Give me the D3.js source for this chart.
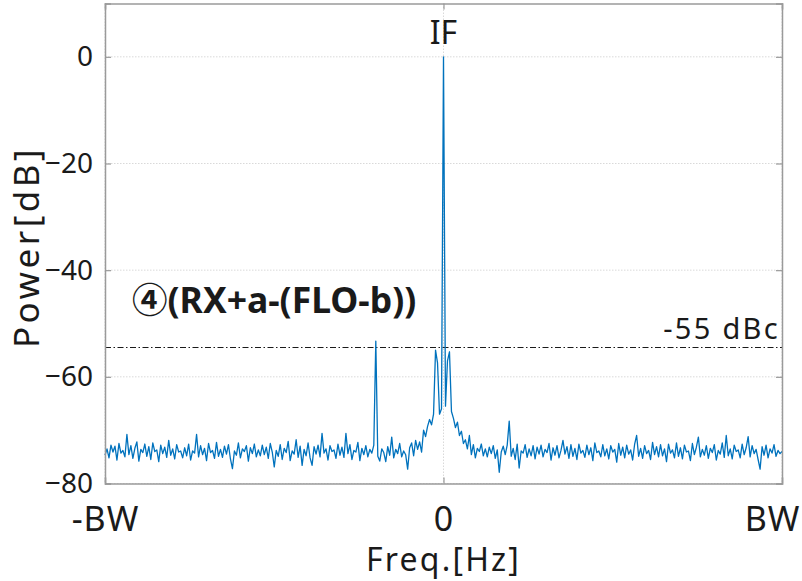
<!DOCTYPE html>
<html><head><meta charset="utf-8">
<script src="https://cdn.jsdelivr.net/npm/d3@7"></script>
<style>body{margin:0;background:#fff}svg text{font-family:"Noto Sans","Noto Sans CJK KR",sans-serif;fill:#1a1a1a}</style>
</head><body><div id="chart"></div>
<script>
// ---- data ----
const xTickValues = [-1, 0, 1];
const xTickLabels = ["-BW", "0", "BW"];
const yTickValues = [-80, -60, -40, -20, 0];
const refLevel = -54.5;          // dash-dot reference line
const refLabel = "-55 dBc";
const peakLabel = "IF";
const spurLabel = "④(RX+a-(FLO-b))";
const power = [
-74.7,-73.5,-75.2,-72.8,-74.1,-73.0,-75.6,-72.5,-74.3,-73.8,-75.0,-70.8,-74.6,-72.9,-75.3,-73.4,-72.2,-75.8,-73.6,-74.2,
-72.6,-74.9,-73.1,-75.5,-72.4,-74.0,-73.7,-75.9,-72.8,-74.4,-73.2,-75.1,-71.9,-74.7,-73.5,-75.4,-72.7,-74.1,-73.9,-75.2,
-73.3,-74.8,-72.6,-75.6,-73.9,-74.3,-70.8,-75.0,-72.9,-74.6,-73.4,-75.7,-72.5,-74.2,-73.8,-75.3,-72.3,-74.9,-73.6,-75.1,
-73.0,-74.5,-72.7,-75.4,-77.2,-73.9,-74.7,-72.4,-75.2,-73.5,-74.0,-72.9,-75.8,-73.3,-74.4,-72.6,-75.0,-73.7,-74.8,-72.8,
-74.6,-73.2,-75.3,-72.5,-74.1,-76.9,-73.8,-74.9,-72.7,-75.5,-73.4,-74.2,-72.1,-75.7,-73.9,-74.5,-71.8,-75.1,-73.0,-76.6,
-73.6,-74.8,-72.4,-75.2,-76.6,-73.1,-74.5,-72.8,-75.0,-70.6,-74.3,-73.5,-75.6,-72.9,-74.0,-73.7,-75.3,-72.6,-74.7,-73.2,
-75.1,-70.6,-74.4,-72.7,-75.5,-73.8,-74.1,-72.3,-75.7,-73.4,-74.6,-72.9,-75.0,-73.6,-74.3,-72.8,-53.3,-74.9,-75.8,-73.5,
-74.2,-75.9,-73.1,-74.7,-71.3,-75.2,-73.6,-74.4,-72.5,-75.0,-73.9,-74.6,-77.3,-73.3,-72.4,-74.8,-71.9,-73.6,-72.2,-74.1,
-70.0,-71.2,-69.3,-68.0,-69.0,-67.0,-55.0,-57.4,-67.0,-66.0,0.0,-65.5,-57.0,-55.3,-66.5,-67.8,-69.5,-68.5,-71.0,-70.2,
-72.5,-71.8,-73.5,-71.0,-74.6,-72.7,-75.2,-73.4,-74.0,-72.6,-74.8,-73.5,-75.0,-73.2,-74.4,-72.9,-75.3,-73.7,-77.9,-74.1,
-73.0,-74.6,-72.8,-68.3,-74.9,-73.4,-75.5,-72.6,-77.1,-73.9,-74.3,-72.7,-75.1,-73.5,-74.8,-72.9,-75.4,-73.2,-74.5,-72.8,
-75.0,-73.6,-74.2,-72.5,-75.6,-73.3,-74.7,-72.9,-75.2,-73.8,-71.9,-74.5,-73.1,-75.3,-72.7,-74.9,-73.4,-75.5,-72.6,-74.3,
-73.8,-75.1,-72.8,-74.6,-73.3,-75.7,-72.4,-74.2,-73.9,-75.0,-72.7,-74.8,-73.5,-75.4,-72.9,-74.1,-73.6,-76.0,-72.5,-74.7,
-73.2,-75.2,-72.8,-74.5,-73.7,-75.6,-72.6,-71.0,-74.9,-73.4,-75.3,-72.9,-74.4,-73.8,-75.5,-72.3,-74.6,-73.1,-75.0,-72.7,
-74.8,-73.5,-75.9,-72.6,-74.3,-73.7,-75.2,-72.4,-74.9,-73.3,-75.4,-72.8,-74.1,-73.9,-75.7,-72.5,-74.6,-73.2,-71.3,-75.0,
-73.6,-74.7,-72.9,-75.3,-73.4,-74.2,-72.7,-75.6,-73.8,-74.5,-72.4,-75.1,-71.0,-74.8,-73.5,-75.4,-72.8,-74.0,-73.7,-75.2,
-72.6,-74.6,-73.3,-71.2,-75.0,-72.9,-74.4,-73.6,-75.5,-77.3,-73.1,-74.7,-72.8,-75.2,-73.5,-74.3,-72.7,-74.9,-73.8,-74.4,-74.0
];
// uniform frequency grid spanning -BW .. BW
const freq = power.map((_, i) => -1 + 2 * i / (power.length - 1));

// ---- layout ----
const W = 802, H = 581;
const m = {left: 105, right: 20, top: 3.5, bottom: 97.5};
const iw = W - m.left - m.right, ih = H - m.top - m.bottom;

const svg = d3.select("#chart").append("svg").attr("width", W).attr("height", H);
svg.append("rect").attr("width", W).attr("height", H).attr("fill", "#fff");
const g = svg.append("g").attr("transform", `translate(${m.left},${m.top})`);

const x = d3.scaleLinear().domain([-1, 1]).range([0, iw]);
const y = d3.scaleLinear().domain([-80, 10]).range([ih, 0]);

// grid
g.append("g").selectAll("line").data(yTickValues).join("line")
  .attr("x1", 0).attr("x2", iw).attr("y1", d => y(d)).attr("y2", d => y(d))
  .attr("stroke", "#d9d9d9").attr("stroke-width", 1).attr("stroke-dasharray", "1.5,1.5");
g.append("g").selectAll("line").data(xTickValues).join("line")
  .attr("x1", d => x(d)).attr("x2", d => x(d)).attr("y1", 0).attr("y2", ih)
  .attr("stroke", "#d9d9d9").attr("stroke-width", 1).attr("stroke-dasharray", "1.5,1.5");

// reference line
g.append("line").attr("x1", 0).attr("x2", iw).attr("y1", y(refLevel)).attr("y2", y(refLevel))
  .attr("stroke", "#1a1a1a").attr("stroke-width", 1.2).attr("stroke-dasharray", "6,2.5,1.5,2.5");

// spectrum
const line = d3.line().x((d, i) => x(freq[i])).y(d => y(d));
g.append("path").datum(power).attr("d", line)
  .attr("fill", "none").attr("stroke", "#0072BD").attr("stroke-width", 1.3).attr("stroke-linejoin", "round");

// axes
const axisColor = "#9a9a9a";
const yAxisL = g.append("g").call(d3.axisLeft(y).tickValues(yTickValues).tickSize(-6).tickPadding(12).tickFormat(d3.format("d")));
const yAxisR = g.append("g").attr("transform", `translate(${iw},0)`).call(d3.axisRight(y).tickValues(yTickValues).tickSize(-6).tickFormat(""));
const xAxisB = g.append("g").attr("transform", `translate(0,${ih})`).call(d3.axisBottom(x).tickValues(xTickValues).tickSize(-6).tickPadding(24).tickFormat((d, i) => xTickLabels[i]));
const xAxisT = g.append("g").call(d3.axisTop(x).tickValues(xTickValues).tickSize(-6).tickFormat(""));
[yAxisL, yAxisR, xAxisB, xAxisT].forEach(a => {
  a.select(".domain").attr("stroke", axisColor).attr("stroke-width", 1.5);
  a.selectAll(".tick line").attr("stroke", axisColor).attr("stroke-width", 1.2);
  a.selectAll("text").attr("fill", "#1a1a1a").style("font-family", '"Noto Sans",sans-serif');
});
yAxisL.selectAll("text").style("font-size", "28px");
xAxisB.selectAll("text").style("font-size", "34px").style("letter-spacing", "1px").attr("dy", "0.7em");
xAxisB.selectAll(".tick:last-of-type text").attr("text-anchor", "end").attr("dx", 18);

// axis titles
svg.append("text").attr("x", m.left + x(0)).attr("y", 571).attr("text-anchor", "middle")
  .style("font-size", "32px").style("letter-spacing", "2.2px").text("Freq.[Hz]");
svg.append("text").attr("transform", `translate(39,247) rotate(-90)`).attr("text-anchor", "middle")
  .style("font-size", "35px").style("letter-spacing", "3.5px").text("Power[dB]");

// annotations
g.append("text").attr("x", x(0)).attr("y", y(0) - 13).attr("text-anchor", "middle")
  .style("font-size", "32px").text(peakLabel);
g.append("text").attr("x", iw - 2).attr("y", y(refLevel) - 9).attr("text-anchor", "end")
  .style("font-size", "29px").style("letter-spacing", "2.3px").text(refLabel);
g.append("text").attr("x", x(-0.92)).attr("y", y(-48)).attr("text-anchor", "start")
  .style("font-size", "35.5px").style("font-weight", "bold").text(spurLabel);
</script></body></html>
